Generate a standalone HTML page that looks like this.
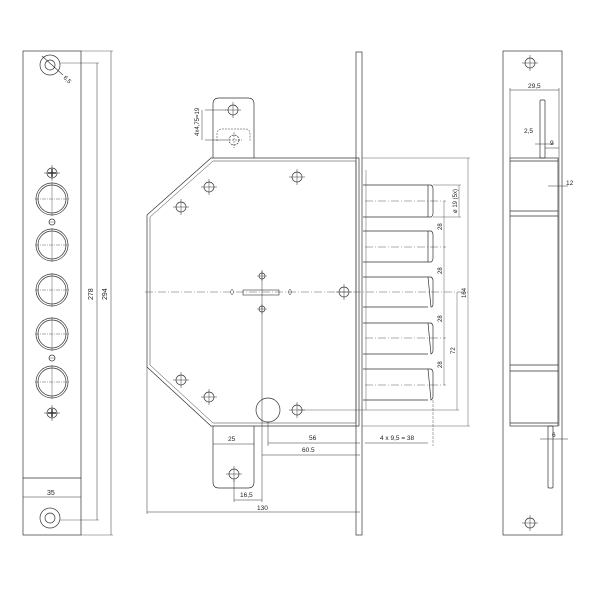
<!DOCTYPE html>
<html><head><meta charset="utf-8"><style>html,body{margin:0;background:#fff}</style></head><body>
<svg width="600" height="600" viewBox="0 0 600 600" xmlns="http://www.w3.org/2000/svg" font-family="Liberation Sans, sans-serif" font-size="7" fill="none" stroke="#333" stroke-width="0.7">
<defs>
<g id="ph"><circle r="5"/><line x1="-8" y1="0" x2="8" y2="0" stroke-width="0.5"/><line x1="0" y1="-8" x2="0" y2="8" stroke-width="0.5"/></g>
<g id="sm"><circle r="3"/><line x1="-5" y1="0" x2="5" y2="0" stroke-width="0.4"/><line x1="0" y1="-5" x2="0" y2="5" stroke-width="0.4"/></g>
<g id="big"><circle r="16"/><circle r="14"/><line x1="-17" y1="0" x2="17" y2="0" stroke-width="0.4" stroke-dasharray="4 1 1 1"/><line x1="0" y1="-17" x2="0" y2="17" stroke-width="0.4"/></g>
</defs>
<!-- Left plate -->
<rect x="23" y="51" width="58" height="484"/>
<line x1="23" y1="478" x2="81" y2="478"/>
<circle cx="50" cy="65" r="10"/><circle cx="50" cy="65" r="5"/>
<line x1="42" y1="56" x2="63" y2="75" stroke-width="0.6"/>
<text x="63" y="78" fill="#222" stroke="none" font-size="6" transform="rotate(45 63 78)">6,5</text>
<circle cx="50" cy="518" r="10"/><circle cx="50" cy="518" r="5"/>
<use href="#big" x="52" y="199"/><use href="#big" x="52" y="245"/><use href="#big" x="52" y="290"/><use href="#big" x="52" y="334"/><use href="#big" x="52" y="382"/>
<use href="#ph" x="52" y="173"/><use href="#ph" x="52" y="413"/>
<line x1="48" y1="173" x2="56" y2="173" stroke-width="1.5"/><line x1="52" y1="169" x2="52" y2="177" stroke-width="1.5"/>
<line x1="48" y1="413" x2="56" y2="413" stroke-width="1.5"/><line x1="52" y1="409" x2="52" y2="417" stroke-width="1.5"/>
<circle cx="52" cy="222" r="3"/><line x1="49" y1="222" x2="55" y2="222" stroke-width="0.4"/>
<circle cx="52" cy="358" r="3"/><line x1="49" y1="358" x2="55" y2="358" stroke-width="0.4"/>
<line x1="23" y1="497" x2="81" y2="497" stroke-width="0.5"/><text x="47" y="495" fill="#222" stroke="none">35</text>
<line x1="60" y1="63" x2="99" y2="63" stroke-width="0.4"/><line x1="60" y1="520" x2="99" y2="520" stroke-width="0.4"/>
<line x1="97" y1="63" x2="97" y2="520" stroke-width="0.5"/>
<line x1="81" y1="51" x2="113" y2="51" stroke-width="0.4"/><line x1="81" y1="535" x2="113" y2="535" stroke-width="0.4"/>
<line x1="111" y1="51" x2="111" y2="535" stroke-width="0.5"/>
<text x="93" y="300" fill="#222" stroke="none" transform="rotate(-90 93 300)">278</text>
<text x="107" y="300" fill="#222" stroke="none" transform="rotate(-90 107 300)">294</text>
<!-- Main body -->
<path d="M211 158 L359 158 L359 426 L211 426 L147 367 L147 215 Z"/>
<path d="M213 161 L356 161 L356 423 L213 423 L150 365 L150 217 Z" stroke-width="0.5"/>
<rect x="356" y="52" width="6" height="483"/>
<path d="M213 158 L213 104 Q213 98 219 98 L248 98 Q254 98 254 104 L254 158"/>
<path d="M217 141 L217 134 Q217 129 222 129 L246 129 Q250 129 250 134 L250 141" stroke-dasharray="2 1" stroke-width="0.5"/>
<use href="#ph" x="233" y="110"/>
<g stroke-dasharray="2 1"><use href="#ph" x="234" y="140"/></g>
<line x1="205" y1="110" x2="226" y2="110" stroke-width="0.5"/><line x1="205" y1="140" x2="226" y2="140" stroke-width="0.5"/><line x1="202" y1="110" x2="202" y2="140" stroke-width="0.5"/>
<text x="199" y="136" fill="#222" stroke="none" font-size="6" transform="rotate(-90 199 136)">4x4,75=19</text>
<path d="M213 426 L213 482 Q213 488 219 488 L248 488 Q254 488 254 482 L254 426"/>
<use href="#ph" x="234" y="474"/>
<use href="#ph" x="297" y="177"/><use href="#ph" x="209" y="187"/><use href="#ph" x="181" y="207"/><use href="#ph" x="181" y="380"/><use href="#ph" x="209" y="397"/><use href="#ph" x="344" y="292"/><use href="#ph" x="297" y="410"/>
<use href="#sm" x="262" y="276"/><use href="#sm" x="262" y="309"/>
<circle cx="268" cy="410" r="12"/>
<rect x="243" y="290" width="36" height="5" stroke-width="0.6"/>
<path d="M230 292 L232 289 L234 292 L232 295 Z" stroke-width="0.5"/><path d="M288 292 L290 289 L292 292 L290 295 Z" stroke-width="0.5"/>
<line x1="145" y1="292" x2="470" y2="292" stroke-width="0.4" stroke-dasharray="8 2 1 2"/>
<line x1="262" y1="270" x2="262" y2="502" stroke-width="0.5"/>
<!-- bolts -->
<g>
<path d="M363 185 L428 185 M363 217 L428 217"/><path d="M428 185 L431 185 Q433 186 433 189 L433 213 Q433 216 431 217 L428 217 Z"/>
<path d="M363 231 L428 231 M363 262 L428 262"/><path d="M428 231 L431 231 Q433 232 433 235 L433 258 Q433 261 431 262 L428 262 Z"/>
<path d="M363 277 L428 277 M363 307 L428 307"/><path d="M428 277 L431 277 Q433 278 433 281 L433 304 Q433 307 431 307 Z"/>
<path d="M363 323 L428 323 M363 354 L428 354"/><path d="M428 323 L431 323 Q433 324 433 327 L433 350 Q433 353 431 354 Z"/>
<path d="M363 369 L428 369 M363 400 L428 400"/><path d="M428 369 L431 369 Q433 370 433 373 L433 396 Q433 399 431 400 Z"/>
<line x1="366" y1="170" x2="366" y2="410" stroke-width="0.4"/>
</g>
<g stroke-width="0.4">
<line x1="365" y1="201" x2="446" y2="201" stroke-dasharray="8 2 1 2"/><line x1="365" y1="247" x2="446" y2="247" stroke-dasharray="8 2 1 2"/><line x1="365" y1="338" x2="446" y2="338" stroke-dasharray="8 2 1 2"/><line x1="365" y1="385" x2="446" y2="385" stroke-dasharray="8 2 1 2"/>
<line x1="444" y1="201" x2="444" y2="385"/>
<line x1="298" y1="410" x2="459" y2="410"/><line x1="457" y1="292" x2="457" y2="410"/>
<line x1="362" y1="158" x2="470" y2="158"/><line x1="362" y1="426" x2="470" y2="426"/><line x1="468" y1="158" x2="468" y2="426"/>
<line x1="433" y1="185" x2="461" y2="185"/><line x1="433" y1="217" x2="461" y2="217"/><line x1="459" y1="185" x2="459" y2="217"/>
<line x1="433" y1="400" x2="433" y2="446" stroke-dasharray="3 1"/>
</g>
<g fill="#222" stroke="none" font-size="6">
<text x="442" y="230" transform="rotate(-90 442 230)">28</text>
<text x="442" y="274" transform="rotate(-90 442 274)">28</text>
<text x="442" y="322" transform="rotate(-90 442 322)">28</text>
<text x="442" y="368" transform="rotate(-90 442 368)">28</text>
<text x="455" y="354" transform="rotate(-90 455 354)">72</text>
<text x="466" y="298" transform="rotate(-90 466 298)">164</text>
<text x="457" y="213" transform="rotate(-90 457 213)">ø 19 (5x)</text>
</g>
<!-- bottom dims -->
<g stroke-width="0.5">
<line x1="213" y1="444" x2="254" y2="444"/><line x1="268" y1="422" x2="268" y2="446"/>
<line x1="268" y1="443" x2="360" y2="443"/><line x1="365" y1="443" x2="428" y2="443"/>
<line x1="262" y1="455" x2="360" y2="455"/>
<line x1="234" y1="480" x2="234" y2="502"/><line x1="234" y1="500" x2="262" y2="500"/>
<line x1="147" y1="367" x2="147" y2="514"/><line x1="147" y1="512" x2="360" y2="512"/>
</g>
<g fill="#222" stroke="none" font-size="6.5">
<text x="228" y="441">25</text><text x="309" y="440">56</text><text x="302" y="452">60.5</text>
<text x="380" y="440">4 x 9,5 = 38</text><text x="240" y="497">16,5</text><text x="257" y="510">130</text>
</g>
<!-- Right plate -->
<rect x="503" y="51" width="59" height="484"/>
<use href="#ph" x="530" y="63"/><use href="#ph" x="530" y="523"/>
<rect x="510" y="158" width="48" height="268"/>
<line x1="510" y1="161" x2="558" y2="161"/><line x1="510" y1="423" x2="558" y2="423"/>
<line x1="510" y1="211" x2="558" y2="211"/><line x1="510" y1="216" x2="558" y2="216"/>
<line x1="510" y1="365" x2="558" y2="365"/><line x1="510" y1="371" x2="558" y2="371"/>
<line x1="559" y1="158" x2="559" y2="426" stroke-width="0.5"/>
<rect x="540" y="100" width="5" height="58" rx="1"/>
<rect x="548" y="426" width="5" height="62" rx="1"/>
<g stroke-width="0.5">
<line x1="510" y1="90" x2="559" y2="90"/><line x1="510" y1="88" x2="510" y2="158"/><line x1="559" y1="88" x2="559" y2="158"/>
<line x1="535" y1="144" x2="554" y2="144"/><line x1="545" y1="148" x2="559" y2="148"/>
<line x1="548" y1="186" x2="568" y2="186"/>
<line x1="540" y1="439" x2="568" y2="439"/>
</g>
<g fill="#222" stroke="none" font-size="6.5">
<text x="528" y="88">29,5</text><text x="524" y="133">2,5</text><text x="550" y="145">9</text><text x="566" y="185">12</text><text x="552" y="437">6</text>
</g>
</svg>
</body></html>
